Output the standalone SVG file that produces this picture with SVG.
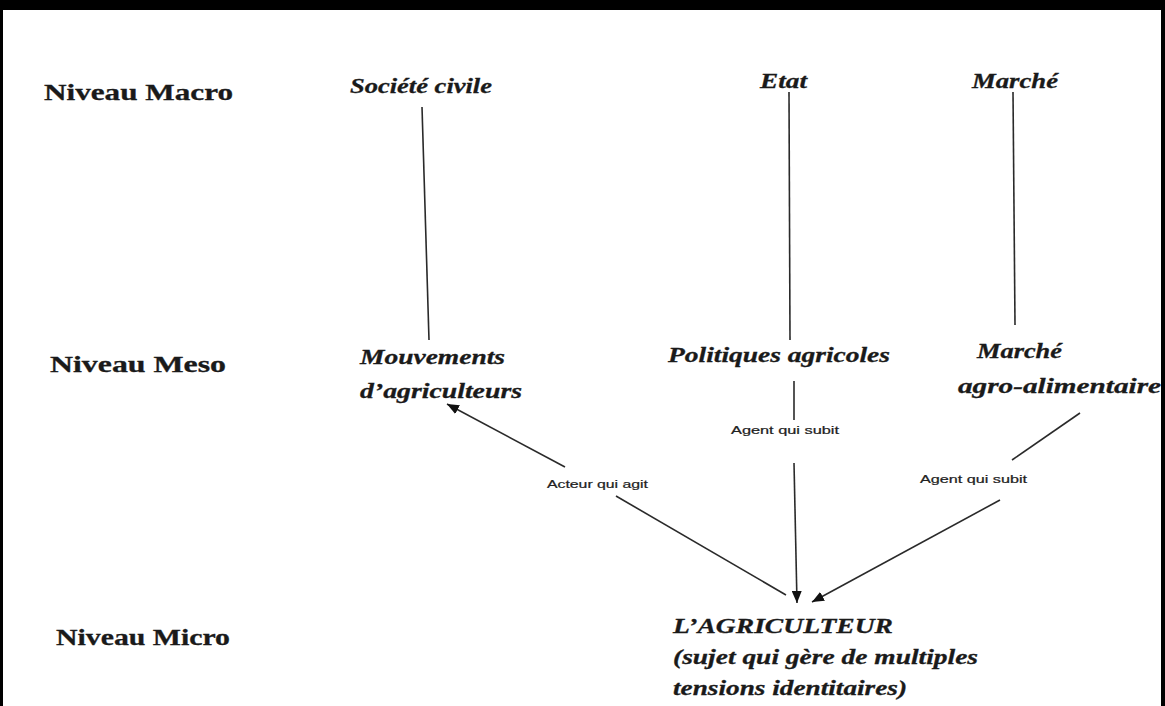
<svg xmlns="http://www.w3.org/2000/svg" width="1165" height="706" viewBox="0 0 1165 706">
  <defs>
    <marker id="arr" markerUnits="userSpaceOnUse" markerWidth="12" markerHeight="10" refX="12" refY="5" orient="auto">
      <path d="M0,0 L12,5 L0,10 z" fill="#111"/>
    </marker>
    <style>
      .lvl { font-family: "Liberation Serif", serif; font-weight: bold; font-size: 23px; fill: #1a1a1a; stroke: #1a1a1a; stroke-width: 0.3; }
      .nd { font-family: "Liberation Serif", serif; font-weight: bold; font-style: italic; font-size: 21px; fill: #1a1a1a; stroke: #1a1a1a; stroke-width: 0.3; }
      .sm { font-family: "Liberation Sans", sans-serif; font-size: 10px; fill: #222; stroke: #222; stroke-width: 0.2; }
      .ln { stroke: #2a2a2a; stroke-width: 1.6; fill: none; }
    </style>
  </defs>
  <rect x="0" y="0" width="1165" height="706" fill="#ffffff"/>
  <rect x="0" y="0" width="1165" height="10" fill="#000"/>
  <rect x="0" y="0" width="3" height="706" fill="#000"/>
  <rect x="1161" y="0" width="4" height="706" fill="#000"/>

  <g id="levels">
    <text class="lvl" x="44" y="100" textLength="189" lengthAdjust="spacingAndGlyphs">Niveau Macro</text>
    <text class="lvl" x="50" y="372" textLength="176" lengthAdjust="spacingAndGlyphs">Niveau Meso</text>
    <text class="lvl" x="56" y="645" textLength="174" lengthAdjust="spacingAndGlyphs">Niveau Micro</text>
  </g>

  <g id="societe-civile">
    <text class="nd" x="350" y="93" textLength="142" lengthAdjust="spacingAndGlyphs">Société civile</text>
  </g>
  <g id="etat">
    <text class="nd" x="760" y="88" textLength="47" lengthAdjust="spacingAndGlyphs">Etat</text>
  </g>
  <g id="marche">
    <text class="nd" x="972" y="88" textLength="86" lengthAdjust="spacingAndGlyphs">Marché</text>
  </g>
  <g id="mouvements">
    <text class="nd" x="360" y="364" textLength="145" lengthAdjust="spacingAndGlyphs">Mouvements</text>
    <text class="nd" x="360" y="398" textLength="162" lengthAdjust="spacingAndGlyphs">d’agriculteurs</text>
  </g>
  <g id="politiques">
    <text class="nd" x="668" y="362" textLength="222" lengthAdjust="spacingAndGlyphs">Politiques agricoles</text>
  </g>
  <g id="marche-agro">
    <text class="nd" x="977" y="358" textLength="85" lengthAdjust="spacingAndGlyphs">Marché</text>
    <text class="nd" x="958" y="393" textLength="203" lengthAdjust="spacingAndGlyphs">agro-alimentaire</text>
  </g>
  <g id="agriculteur">
    <text class="nd" x="673" y="633" textLength="220" lengthAdjust="spacingAndGlyphs">L’AGRICULTEUR</text>
    <text class="nd" x="673" y="664" textLength="305" lengthAdjust="spacingAndGlyphs">(sujet qui gère de multiples</text>
    <text class="nd" x="673" y="695" textLength="234" lengthAdjust="spacingAndGlyphs">tensions identitaires)</text>
  </g>

  <g id="connectors">
    <line class="ln" x1="422" y1="107" x2="429" y2="340"/>
    <line class="ln" x1="789" y1="92" x2="790" y2="340"/>
    <line class="ln" x1="1013" y1="92" x2="1015" y2="325"/>
    <line class="ln" x1="565" y1="467" x2="447" y2="404" marker-end="url(#arr)"/>
    <line class="ln" x1="616" y1="496" x2="786" y2="595"/>
    <line class="ln" x1="794" y1="381" x2="794" y2="420"/>
    <line class="ln" x1="794" y1="463" x2="797" y2="603" marker-end="url(#arr)"/>
    <line class="ln" x1="1080" y1="413" x2="1012" y2="460"/>
    <line class="ln" x1="1000" y1="500" x2="812" y2="602" marker-end="url(#arr)"/>
    <text class="sm" x="547" y="488" textLength="101" lengthAdjust="spacingAndGlyphs">Acteur qui agit</text>
    <text class="sm" x="731" y="434" textLength="108" lengthAdjust="spacingAndGlyphs">Agent qui subit</text>
    <text class="sm" x="920" y="483" textLength="107" lengthAdjust="spacingAndGlyphs">Agent qui subit</text>
  </g>
</svg>
